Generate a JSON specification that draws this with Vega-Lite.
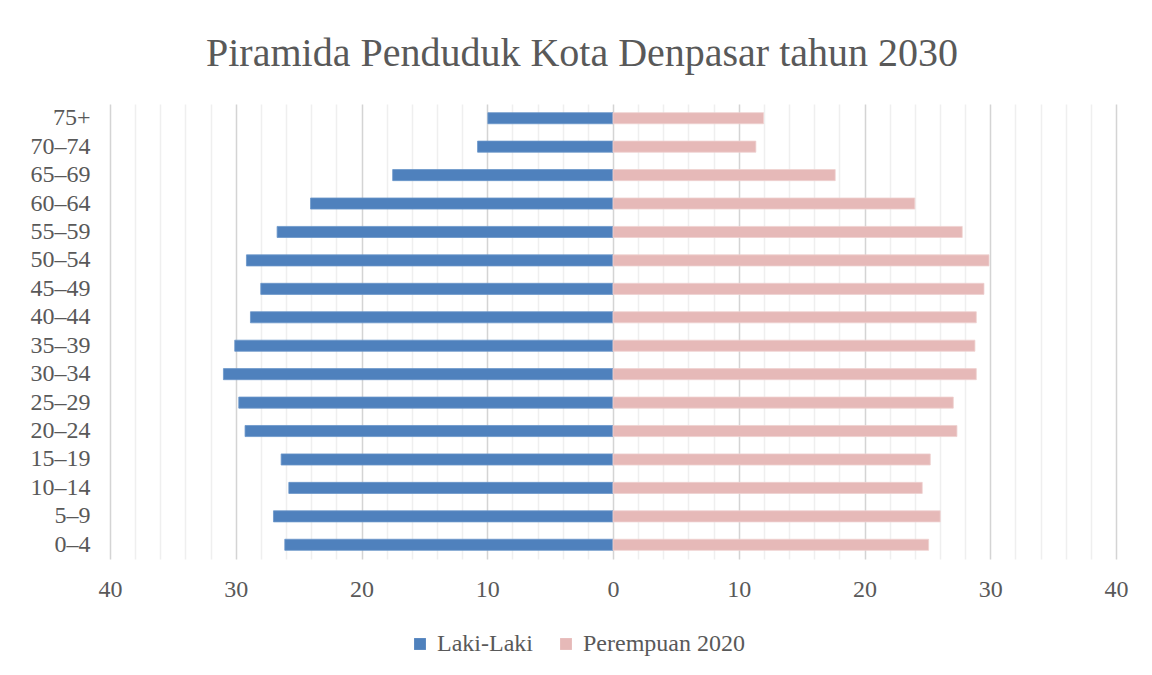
{
  "$schema": "https://vega.github.io/schema/vega-lite/v6.json",
  "width": 1006,
  "height": 455,
  "autosize": {"type": "none"},
  "padding": {"left": 110, "top": 104, "right": 36, "bottom": 116},
  "background": "white",
  "title": {
    "text": "Piramida Penduduk Kota Denpasar tahun 2030",
    "font": "Liberation Serif",
    "fontSize": 40,
    "fontWeight": "normal",
    "color": "#595959",
    "offset": 30,
    "dx": -31
  },
  "data": {
    "values": [
      {"umur": "75+", "jenis": "Laki-Laki", "nilai": -9.95},
      {"umur": "70–74", "jenis": "Laki-Laki", "nilai": -10.77},
      {"umur": "65–69", "jenis": "Laki-Laki", "nilai": -17.52},
      {"umur": "60–64", "jenis": "Laki-Laki", "nilai": -24.05},
      {"umur": "55–59", "jenis": "Laki-Laki", "nilai": -26.71},
      {"umur": "50–54", "jenis": "Laki-Laki", "nilai": -29.15},
      {"umur": "45–49", "jenis": "Laki-Laki", "nilai": -28.01},
      {"umur": "40–44", "jenis": "Laki-Laki", "nilai": -28.83},
      {"umur": "35–39", "jenis": "Laki-Laki", "nilai": -30.08},
      {"umur": "30–34", "jenis": "Laki-Laki", "nilai": -30.98},
      {"umur": "25–29", "jenis": "Laki-Laki", "nilai": -29.76},
      {"umur": "20–24", "jenis": "Laki-Laki", "nilai": -29.26},
      {"umur": "15–19", "jenis": "Laki-Laki", "nilai": -26.39},
      {"umur": "10–14", "jenis": "Laki-Laki", "nilai": -25.78},
      {"umur": "5–9", "jenis": "Laki-Laki", "nilai": -27.0},
      {"umur": "0–4", "jenis": "Laki-Laki", "nilai": -26.1},
      {"umur": "75+", "jenis": "Perempuan 2020", "nilai": 11.97},
      {"umur": "70–74", "jenis": "Perempuan 2020", "nilai": 11.36},
      {"umur": "65–69", "jenis": "Perempuan 2020", "nilai": 17.67},
      {"umur": "60–64", "jenis": "Perempuan 2020", "nilai": 24.0},
      {"umur": "55–59", "jenis": "Perempuan 2020", "nilai": 27.77},
      {"umur": "50–54", "jenis": "Perempuan 2020", "nilai": 29.9},
      {"umur": "45–49", "jenis": "Perempuan 2020", "nilai": 29.5},
      {"umur": "40–44", "jenis": "Perempuan 2020", "nilai": 28.89},
      {"umur": "35–39", "jenis": "Perempuan 2020", "nilai": 28.78},
      {"umur": "30–34", "jenis": "Perempuan 2020", "nilai": 28.89},
      {"umur": "25–29", "jenis": "Perempuan 2020", "nilai": 27.06},
      {"umur": "20–24", "jenis": "Perempuan 2020", "nilai": 27.35},
      {"umur": "15–19", "jenis": "Perempuan 2020", "nilai": 25.23},
      {"umur": "10–14", "jenis": "Perempuan 2020", "nilai": 24.59},
      {"umur": "5–9", "jenis": "Perempuan 2020", "nilai": 26.02},
      {"umur": "0–4", "jenis": "Perempuan 2020", "nilai": 25.1}
    ]
  },
  "mark": {"type": "bar", "strokeWidth": 0.8},
  "encoding": {
    "y": {
      "field": "umur",
      "type": "nominal",
      "sort": ["75+", "70–74", "65–69", "60–64", "55–59", "50–54", "45–49", "40–44", "35–39", "30–34", "25–29", "20–24", "15–19", "10–14", "5–9", "0–4"],
      "scale": {"paddingInner": 0.61, "paddingOuter": 0.305},
      "axis": {
        "title": null,
        "domain": false,
        "ticks": false,
        "grid": false,
        "labelFont": "Liberation Serif",
        "labelFontSize": 24,
        "labelColor": "#595959",
        "labelPadding": 20
      }
    },
    "x": {
      "field": "nilai",
      "type": "quantitative",
      "stack": null,
      "scale": {"domain": [-40, 40], "nice": false, "zero": true},
      "axis": {
        "title": null,
        "domain": false,
        "ticks": false,
        "values": [-40, -38, -36, -34, -32, -30, -28, -26, -24, -22, -20, -18, -16, -14, -12, -10, -8, -6, -4, -2, 0, 2, 4, 6, 8, 10, 12, 14, 16, 18, 20, 22, 24, 26, 28, 30, 32, 34, 36, 38, 40],
        "labelExpr": "datum.value % 10 === 0 ? format(abs(datum.value), 'd') : ''",
        "labelFont": "Liberation Serif",
        "labelFontSize": 24,
        "labelColor": "#595959",
        "labelPadding": 18,
        "labelFlush": false,
        "labelBound": false,
        "labelOverlap": false,
        "grid": true,
        "gridWidth": 1.5,
        "gridColor": {"condition": {"test": "datum.value % 10 === 0", "value": "#d4d4d4"}, "value": "#efefef"}
      }
    },
    "color": {
      "field": "jenis",
      "type": "nominal",
      "scale": {"domain": ["Laki-Laki", "Perempuan 2020"], "range": ["#4f81bd", "#e6b9b8"]},
      "legend": {
        "title": null,
        "orient": "none",
        "direction": "horizontal",
        "legendX": 298,
        "legendY": 528,
        "symbolType": "square",
        "symbolSize": 140,
        "symbolStrokeWidth": 0,
        "labelFont": "Liberation Serif",
        "labelFontSize": 24,
        "labelColor": "#595959",
        "labelOffset": 5,
        "labelLimit": 400,
        "columnPadding": 21
      }
    },
    "stroke": {
      "field": "jenis",
      "type": "nominal",
      "scale": {"domain": ["Laki-Laki", "Perempuan 2020"], "range": ["#6a95c9", "#efd0cf"]},
      "legend": null
    }
  },
  "config": {"view": {"stroke": null}}
}
